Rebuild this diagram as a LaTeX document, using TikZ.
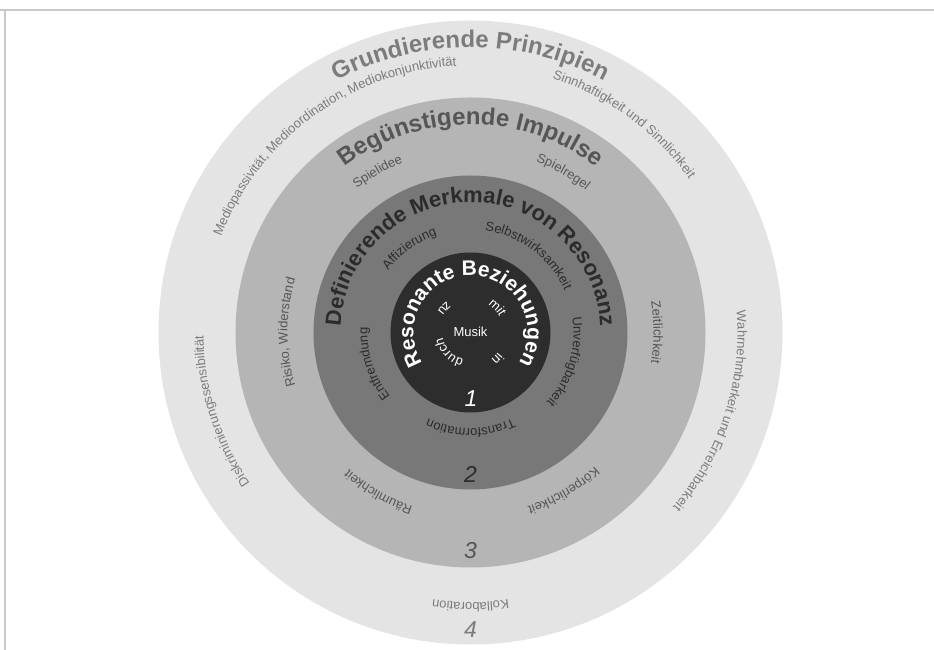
\documentclass[tikz,border=0pt]{standalone}
\usepackage{fontspec}
\setmainfont{Liberation Sans}
\usepackage{xcolor}
\usepackage{tikz}
\usetikzlibrary{decorations.text}

\definecolor{ringone}{HTML}{2D2D2D}
\definecolor{ringtwo}{HTML}{787878}
\definecolor{ringthree}{HTML}{B5B5B5}
\definecolor{ringfour}{HTML}{E4E4E4}
\definecolor{inktwo}{HTML}{2B2B2B}
\definecolor{inkthree}{HTML}{565656}
\definecolor{inkfour}{HTML}{7C7C7C}
\definecolor{framegray}{HTML}{C8C8C8}

\newcommand{\titlesize}[1]{\bfseries\fontsize{#1}{#1}\selectfont}
\newcommand{\labelsize}{\fontsize{13}{13}\selectfont}
\newcommand{\ringtext}[5][90]{%
  \path[#2, decoration={text={#5}}] (#4+#1:#3)
    arc[start angle=#4+#1, end angle=#4-#1, radius=#3];}

\begin{document}
\begin{tikzpicture}[x=1pt, y=1pt,
    arctxt/.style={decorate, decoration={text along path, text align=center, text color=#1}},
    num/.style={font=\itshape\fontsize{23}{23}\selectfont, text=#1, inner sep=0pt}
  ]
  \useasboundingbox (-470.5,-317.5) rectangle (463.5,332.5);

  % frame
  \draw[framegray, line width=1.5pt] (-470.5,322.5) -- (463.5,322.5);
  \draw[framegray, line width=1.5pt] (-465.5,322.5) -- (-465.5,-317.5);

  % rings
  \fill[ringfour]  (0,0) circle[radius=312];
  \fill[ringthree] (0,0) circle[radius=235];
  \fill[ringtwo]   (0,0) circle[radius=157];
  \fill[ringone]   (0,0) circle[radius=80];

  % ring 4
  \ringtext{arctxt=inkfour}{285}{90}{|\titlesize{24}|Grundierende Prinzipien}
  \ringtext{arctxt=inkfour}{267}{126}{|\labelsize|Mediopassivität, Medioordination, Mediokonjunktivität}
  \ringtext{arctxt=inkfour}{267}{53.6}{|\labelsize|Sinnhaftigkeit und Sinnlichkeit}
  \ringtext{arctxt=inkfour}{267}{-18}{|\labelsize|Wahrnehmbarkeit und Erreichbarkeit}
  \ringtext{arctxt=inkfour}{270}{-90}{|\labelsize|Kollaboration}
  \ringtext{arctxt=inkfour}{267}{197.5}{|\labelsize|Diskriminierungssensibilität}

  % ring 3
  \ringtext{arctxt=inkthree}{208}{90}{|\titlesize{24}|Begünstigende Impulse}
  \ringtext{arctxt=inkthree}{183}{120}{|\labelsize|Spielidee}
  \ringtext{arctxt=inkthree}{183}{60}{|\labelsize|Spielregel}
  \ringtext{arctxt=inkthree}{183}{0}{|\labelsize|Zeitlichkeit}
  \ringtext{arctxt=inkthree}{183}{-59.5}{|\labelsize|Körperlichkeit}
  \ringtext{arctxt=inkthree}{183}{240}{|\labelsize|Räumlichkeit}
  \ringtext{arctxt=inkthree}{183}{180}{|\labelsize|Risiko, Widerstand}

  % ring 2
  \ringtext[95]{arctxt=inktwo}{130}{90}{|\titlesize{22}|Definierende Merkmale von Resonanz}
  \ringtext{arctxt=inktwo}{103}{126}{|\labelsize|Affizierung}
  \ringtext{arctxt=inktwo}{103}{53}{|\labelsize|Selbstwirksamkeit}
  \ringtext{arctxt=inktwo}{103}{-17}{|\labelsize|Unverfügbarkeit}
  \ringtext{arctxt=inktwo}{96}{-90}{|\labelsize|Transformation}
  \ringtext{arctxt=inktwo}{103}{198}{|\labelsize|Entfremdung}

  % ring 1
  \ringtext[170]{arctxt=white}{57}{90}{|\titlesize{21}|Resonante Beziehungen}
  \ringtext{arctxt=white}{33}{43.3}{|\labelsize|mit}
  \ringtext{arctxt=white}{34}{-44.7}{|\labelsize|in}
  \ringtext{arctxt=white}{28}{223}{|\labelsize|durch}
  \path[arctxt=white, decoration={text={|\labelsize|zu}}] (47.7:39)
    arc[start angle=47.7, end angle=227.7, radius=39];
  \node[font=\labelsize, text=white] (musik) at (0,1) {Musik};

  % numbers
  \node[num=white]    (one)   at (0.5,-66.5)   {1};
  \node[num=inktwo]   (two)   at (0,-141.5)    {2};
  \node[num=inkthree] (three) at (0,-218.5)    {3};
  \node[num=inkfour]  (four)  at (0,-297.5)    {4};
\end{tikzpicture}
\end{document}
